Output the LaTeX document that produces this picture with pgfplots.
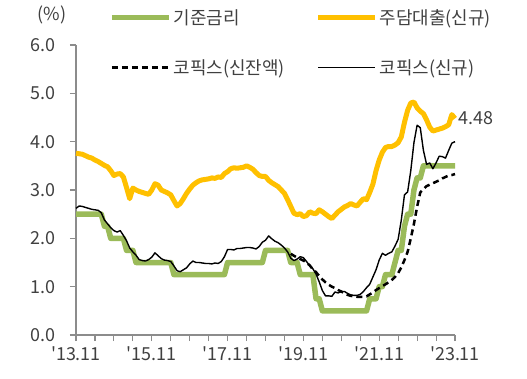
\documentclass[border=0pt]{standalone}
\usepackage{fontspec}
\setmainfont{Noto Sans CJK KR}
\usepackage{pgfplots}
\usepackage{pgfplotstable}
\pgfplotsset{compat=1.18}
\definecolor{cgreen}{HTML}{9BBB59}
\definecolor{cyellow}{HTML}{FFC000}
\definecolor{axgray}{HTML}{8C8C8C}
\definecolor{txgray}{HTML}{404040}

\pgfplotstableread{
m v
0 2.50
8 2.50
9 2.25
10 2.25
11 2.00
15 2.00
16 1.75
18 1.75
19 1.50
30 1.50
31 1.25
47 1.25
48 1.50
59 1.50
60 1.75
67 1.75
68 1.50
70 1.50
71 1.25
75 1.25
76 0.75
77 0.75
78 0.50
92 0.50
93 0.75
95 0.75
96 1.00
97 1.00
98 1.25
100 1.25
101 1.50
102 1.75
103 1.75
104 2.25
105 2.50
106 2.50
107 3.00
108 3.25
109 3.25
110 3.50
120 3.50
}\base

\pgfplotstableread{
m v
0 3.76
1 3.75
2 3.74
3 3.71
4 3.68
5 3.66
6 3.62
7 3.59
8 3.55
9 3.51
10 3.48
11 3.40
12 3.30
13 3.33
14 3.34
15 3.27
16 3.05
17 2.82
18 3.04
19 3.00
20 2.97
21 2.95
22 2.93
23 2.91
24 3.00
25 3.13
26 3.10
27 3.00
28 2.97
29 2.94
30 2.90
31 2.78
32 2.67
33 2.72
34 2.82
35 2.93
36 3.02
37 3.10
38 3.15
39 3.19
40 3.21
41 3.22
42 3.23
43 3.25
44 3.24
45 3.27
46 3.26
47 3.34
48 3.38
49 3.44
50 3.46
51 3.45
52 3.46
53 3.47
54 3.50
55 3.47
56 3.43
57 3.36
58 3.30
59 3.28
60 3.28
61 3.20
62 3.15
63 3.11
64 3.07
65 3.00
66 2.93
67 2.80
68 2.66
69 2.52
70 2.49
71 2.51
72 2.45
73 2.47
74 2.55
75 2.52
76 2.51
77 2.59
78 2.55
79 2.50
80 2.45
81 2.41
82 2.48
83 2.55
84 2.60
85 2.65
86 2.68
87 2.72
88 2.69
89 2.67
90 2.75
91 2.82
92 2.80
93 2.95
94 3.12
95 3.40
96 3.62
97 3.78
98 3.88
99 3.90
100 3.90
101 3.93
102 3.98
103 4.10
104 4.40
105 4.65
106 4.80
107 4.82
108 4.70
109 4.63
110 4.58
111 4.45
112 4.30
113 4.22
114 4.24
115 4.26
116 4.28
117 4.31
118 4.35
119 4.56
120 4.48
}\mort

\pgfplotstableread{
m v
68 1.68
69 1.64
70 1.60
71 1.57
72 1.54
73 1.50
74 1.44
75 1.36
76 1.30
77 1.22
78 1.15
79 1.09
80 1.04
81 1.00
82 0.97
83 0.93
84 0.90
85 0.86
86 0.83
87 0.81
88 0.80
89 0.79
90 0.79
91 0.79
92 0.80
93 0.84
94 0.88
95 0.93
96 0.97
97 1.01
98 1.05
99 1.09
100 1.14
101 1.20
102 1.28
103 1.40
104 1.55
105 1.72
106 2.00
107 2.30
108 2.65
109 2.95
110 3.02
111 3.08
112 3.11
113 3.14
114 3.17
115 3.20
116 3.24
117 3.27
118 3.30
119 3.31
120 3.33
}\cofixbal

\pgfplotstableread{
m v
0 2.62
1 2.67
2 2.66
3 2.64
4 2.62
5 2.60
6 2.59
7 2.58
8 2.53
9 2.38
10 2.30
11 2.22
12 2.16
13 2.13
14 2.16
15 2.06
16 1.95
17 1.80
18 1.72
19 1.65
20 1.56
21 1.54
22 1.53
23 1.56
24 1.61
25 1.70
26 1.64
27 1.58
28 1.55
29 1.54
30 1.52
31 1.43
32 1.33
33 1.31
34 1.35
35 1.39
36 1.47
37 1.53
38 1.50
39 1.50
40 1.49
41 1.48
42 1.48
43 1.47
44 1.49
45 1.48
46 1.52
47 1.62
48 1.77
49 1.77
50 1.76
51 1.79
52 1.79
53 1.80
54 1.81
55 1.81
56 1.80
57 1.78
58 1.83
59 1.92
60 1.96
61 2.05
62 1.99
63 1.94
64 1.91
65 1.86
66 1.80
67 1.72
68 1.59
69 1.54
70 1.57
71 1.62
72 1.60
73 1.52
74 1.43
75 1.37
76 1.26
77 1.10
78 0.92
79 0.81
80 0.81
81 0.80
82 0.89
83 0.87
84 0.90
85 0.90
86 0.86
87 0.83
88 0.82
89 0.82
90 0.84
91 0.90
92 0.98
93 1.05
94 1.20
95 1.35
96 1.55
97 1.69
98 1.65
99 1.69
100 1.72
101 1.84
102 1.98
103 2.38
104 2.90
105 2.96
106 3.40
107 3.98
108 4.34
109 4.29
110 3.82
111 3.53
112 3.56
113 3.44
114 3.56
115 3.70
116 3.69
117 3.66
118 3.82
119 3.97
120 4.00
}\cofixnew

\begin{document}
\begin{tikzpicture}
\begin{axis}[
  at={(0,0)}, anchor=south west,
  width=379bp, height=290bp, scale only axis,
  xmin=0, xmax=120, ymin=0, ymax=6,
  axis x line*=bottom, axis y line*=left,
  axis line style={-, color=axgray, line width=1.2bp},
  tick style={color=axgray, line width=1.1bp},
  tick align=outside,
  major tick length=6bp, minor tick length=6bp,
  xtick={0,24,...,120},
  minor xtick={6,12,18,30,36,42,54,60,66,78,84,90,102,108,114},
  xticklabels={\textquotesingle13.11,\textquotesingle15.11,\textquotesingle17.11,\textquotesingle19.11,\textquotesingle21.11,\textquotesingle23.11},
  ytick={0,1,...,6},
  yticklabel={\pgfmathprintnumber[fixed,fixed zerofill,precision=1]{\tick}},
  /pgf/number format/assume math mode=true,
  tick label style={font=\fontsize{18}{21}\selectfont, text=txgray},
  yticklabel style={xshift=-11bp},
  xticklabel style={yshift=-2bp},
  clip=false,
  legend columns=2,
  legend style={at={(rel axis cs:0,1)}, anchor=north west, xshift=30bp, yshift=40bp,
    draw=none, fill=none, font=\fontsize{18}{21}\selectfont, text=txgray,
    row sep=30bp, /tikz/every even column/.append style={column sep=29bp}},
  legend cell align=left,
  legend image code/.code={\draw[#1] (0bp,0bp) -- (57bp,0bp);},
  line join=round,
]
\addplot[color=cgreen, line width=5.5bp] table[x=m,y=v]{\base};
\addlegendentry{기준금리}
\addplot[color=cyellow, line width=5bp] table[x=m,y=v]{\mort};
\addlegendentry{주담대출(신규)}
\addplot[color=black, line width=2.5bp, dash pattern=on 6bp off 4bp] table[x=m,y=v]{\cofixbal};
\addlegendentry{코픽스(신잔액)}
\addplot[color=black, line width=1.4bp] table[x=m,y=v]{\cofixnew};
\addlegendentry{코픽스(신규)}
\node[anchor=west, font=\fontsize{18}{21}\selectfont, text=txgray] at (axis cs:120,4.48) {4.48};
\node[font=\fontsize{18}{21}\selectfont, text=txgray] at (rel axis cs:0,1) [xshift=-24bp, yshift=30bp] {(\%)};
\end{axis}
\pgfresetboundingbox
\useasboundingbox (-76bp,-44bp) rectangle (451bp,335bp);
\end{tikzpicture}
\end{document}
